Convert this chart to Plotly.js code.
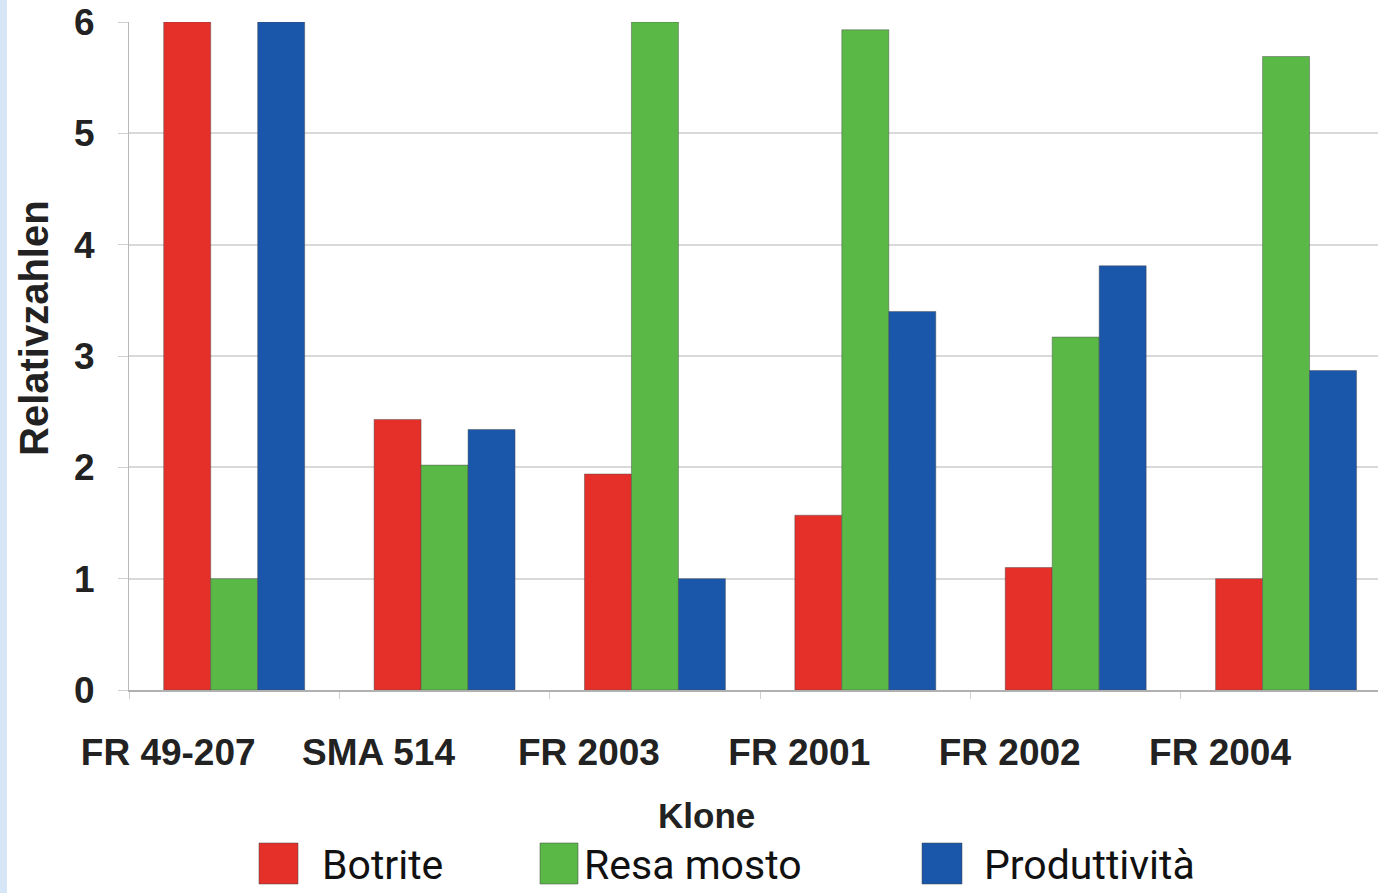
<!DOCTYPE html>
<html>
<head>
<meta charset="utf-8">
<script src="https://cdn.plot.ly/plotly-3.0.1.min.js"></script>
<style>
  html, body { margin: 0; padding: 0; background: #d7e6f6; width: 1378px; height: 893px; overflow: hidden; }
  #chart { position: absolute; left: 7px; top: 0; width: 1371px; height: 893px; background: #ffffff; }
</style>
</head>
<body>
<div id="chart"></div>
<script>
// ---- data ----
const categories = ["FR 49-207", "SMA 514", "FR 2003", "FR 2001", "FR 2002", "FR 2004"];
const seriesNames = ["Botrite", "Resa mosto", "Produttività"];
const botrite      = [6.0, 2.43, 1.94, 1.57, 1.10, 1.0];
const resaMosto    = [1.0, 2.02, 6.0, 5.93, 3.17, 5.69];
const produttivita = [6.0, 2.34, 1.0, 3.40, 3.81, 2.87];
const yTicks = [0, 1, 2, 3, 4, 5, 6];
const xTitle = "Klone";
const yTitle = "Relativzahlen";

// ---- style ----
const colors = ["#e5302a", "#5ab946", "#1a56aa"];
const fontBold = "Liberation Sans, Arial, sans-serif";
const legendFont = "Roboto, Liberation Sans, Arial, sans-serif";

const seriesValues = [botrite, resaMosto, produttivita];
const traces = seriesValues.map((vals, i) => ({
  type: "bar",
  name: seriesNames[i],
  x: categories,
  y: vals,
  marker: { color: colors[i], line: { color: "rgba(70,70,70,0.45)", width: 1 } },
  showlegend: false,
  hoverinfo: "x+y+name"
}));

// plot area in page pixels (div offset 7)
const offX = 7;
const PL = 129 - offX, PR = 1378 - offX, PT = 22, PB = 690;
const PW = PR - PL, PH = PB - PT;
const px = x => (x - offX - PL) / PW;
const py = y => (PB - y) / PH;

const shapes = [];
const annotations = [];

// custom legend (large squares)
const legendSquares = [[259, 298], [540, 578], [922, 962]];
const legendTextX = [320, 582, 982];
legendSquares.forEach((s, i) => {
  shapes.push({
    type: "rect", xref: "paper", yref: "paper",
    x0: px(s[0]), x1: px(s[1]), y0: py(884), y1: py(843),
    fillcolor: colors[i], line: { color: "rgba(70,70,70,0.5)", width: 1 }
  });
  annotations.push({
    xref: "paper", yref: "paper", x: px(legendTextX[i]), y: py(865),
    xanchor: "left", yanchor: "middle", showarrow: false,
    text: seriesNames[i],
    font: { family: legendFont, size: 41, color: "#111111" }
  });
});

// axis titles
annotations.push({
  xref: "paper", yref: "paper", x: px(706), y: py(815),
  xanchor: "center", yanchor: "middle", showarrow: false,
  text: "<b>" + xTitle + "</b>",
  font: { family: fontBold, size: 35, color: "#222222" }
});
annotations.push({
  xref: "paper", yref: "paper", x: px(34), y: py(328),
  xanchor: "center", yanchor: "middle", showarrow: false, textangle: -90,
  text: "<b>" + yTitle + "</b>",
  font: { family: fontBold, size: 40, color: "#222222" }
});

const layout = {
  width: 1371, height: 893,
  margin: { l: PL, r: 1371 - PR, t: PT, b: 893 - PB },
  paper_bgcolor: "#ffffff",
  plot_bgcolor: "#ffffff",
  barmode: "group",
  bargap: 0.33,
  bargroupgap: 0,
  showlegend: false,
  xaxis: {
    type: "category",
    range: [-0.5, 5.437],
    showgrid: false,
    showline: true, linecolor: "#b0b0b0", linewidth: 2,
    ticks: "outside", tickson: "boundaries", ticklen: 7, tickcolor: "#d0d0d0", tickwidth: 1,
    ticklabelshift: -66,
    ticklabelstandoff: 29,
    tickfont: { family: fontBold, size: 37, color: "#222222", weight: "bold" },
    zeroline: false
  },
  yaxis: {
    range: [0, 6],
    tickvals: yTicks,
    ticktext: yTicks.map(v => "<b>" + v + "</b>"),
    showgrid: true, gridcolor: "#d9d9d9", gridwidth: 2,
    showline: true, linecolor: "#b8b8b8", linewidth: 1,
    ticks: "outside", ticklen: 10, tickcolor: "#d0d0d0",
    ticklabelstandoff: 16,
    tickfont: { family: fontBold, size: 37, color: "#222222" },
    zeroline: false
  },
  shapes: shapes,
  annotations: annotations,
  font: { family: fontBold }
};

Plotly.newPlot("chart", traces, layout, { displayModeBar: false, staticPlot: true });
</script>
</body>
</html>
